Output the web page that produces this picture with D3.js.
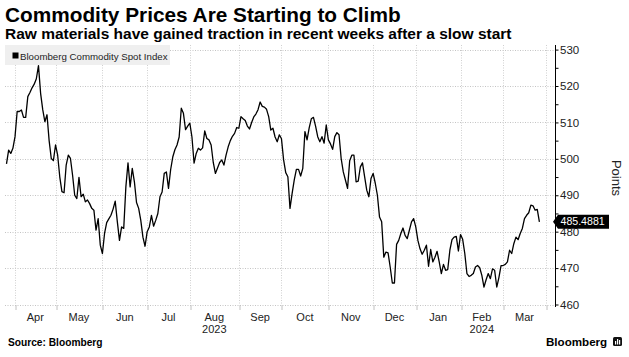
<!DOCTYPE html>
<html><head><meta charset="utf-8">
<script src="https://cdn.jsdelivr.net/npm/d3@7"></script>
<style>body{margin:0;background:#fff}svg{display:block}</style>
</head><body><svg id="c" width="629" height="357"></svg>
<script>
const title = "Commodity Prices Are Starting to Climb";
const subtitle = "Raw materials have gained traction in recent weeks after a slow start";
const seriesName = "Bloomberg Commodity Spot Index";
const sourceText = "Source: Bloomberg";
const brandText = "Bloomberg";
const yAxisTitle = "Points";
const startDate = "2023-03-28";
const endDate = "2024-03-26";
const axisEndDate = "2024-04-05";
const holidays = ["2023-04-07","2023-05-29","2023-06-19","2023-07-04","2023-09-04","2023-11-23","2023-12-25","2024-01-01","2024-01-15","2024-02-19","2024-03-29"];
const values = [
498.6,502.4,501.5,502.9,506.1,513.0,513.0,513.4,511.4,511.4,
517.1,518.2,519.5,520.5,522.0,525.6,518.0,513.5,510.2,512.1,
505.0,500.1,499.5,503.8,501.0,495.0,491.0,490.7,498.3,501.0,
500.1,495.5,490.0,489.1,494.9,489.6,490.3,488.2,488.7,487.7,
486.4,485.9,480.4,483.6,476.3,474.0,479.5,482.5,483.5,484.5,
486.2,488.4,482.7,477.6,481.3,480.9,492.3,498.9,492.3,497.4,
493.7,488.0,486.4,483.1,478.5,476.0,480.0,481.3,484.5,481.5,
483.1,485.0,489.6,490.9,496.0,496.4,491.9,497.0,500.5,502.5,
503.8,506.0,513.9,512.5,508.0,509.0,509.8,506.0,498.8,501.5,
502.9,502.4,503.0,507.7,505.6,505.2,503.8,499.0,496.0,497.5,
499.0,499.7,498.3,501.0,503.3,505.0,506.2,507.0,508.6,508.4,
511.6,511.0,510.5,509.0,508.2,510.0,511.5,512.3,513.5,515.6,
514.4,514.2,513.6,511.6,507.9,508.4,506.0,504.7,506.6,505.5,
499.7,496.2,495.1,486.4,490.5,494.2,497.1,497.1,495.3,497.4,
507.5,505.2,508.5,511.0,511.4,509.0,506.1,504.7,506.1,504.3,
509.3,505.2,504.1,502.6,506.1,507.2,506.6,500.1,496.4,494.2,
491.9,499.5,501.0,501.0,493.7,493.9,497.8,498.9,495.1,491.4,
489.6,494.6,496.0,493.3,490.0,484.0,482.7,473.0,474.4,474.2,
470.3,465.9,465.9,476.5,477.6,479.5,481.0,479.0,478.1,480.4,
482.7,483.6,481.3,477.6,475.3,473.8,474.9,476.3,470.5,475.1,
471.7,473.0,474.6,471.7,468.5,471.0,469.4,469.6,474.9,477.8,
478.5,478.7,474.7,479.2,477.9,474.0,468.5,467.7,468.0,468.5,
470.3,470.7,470.1,468.0,464.8,466.8,468.5,467.1,469.8,469.4,
464.8,467.4,470.7,470.7,471.0,471.7,474.9,474.0,476.7,478.5,
477.8,479.5,480.9,483.6,484.5,485.2,487.3,487.1,485.9,486.1,
482.7,485.4881];
const lastLabel = "485.4881";
const yMajorTicks = [460,470,480,490,500,510,520,530];
const yMinorTicks = [465,475,485,495,505,515,525];
const monthLabels = ["Apr","May","Jun","Jul","Aug","Sep","Oct","Nov","Dec","Jan","Feb","Mar"];
const yearLabels = {"2023-08":"2023","2024-02":"2024"};

// trading calendar
const fmt = d3.utcFormat("%Y-%m-%d");
const parse = d3.utcParse("%Y-%m-%d");
const hol = new Set(holidays);
const allDays = d3.utcDay.range(parse(startDate), d3.utcDay.offset(parse(axisEndDate),1))
  .filter(d => d.getUTCDay()!==0 && d.getUTCDay()!==6 && !hol.has(fmt(d)));
const nData = allDays.findIndex(d => fmt(d)===endDate) + 1;
const data = values.slice(0, nData).map((v,i)=>({date: allDays[i], v}));

// month starts
const monthFmt = d3.utcFormat("%Y-%m");
const monthStarts = [];
allDays.forEach((d,i)=>{ const k=monthFmt(d); if(!monthStarts.length || monthStarts[monthStarts.length-1].key!==k) monthStarts.push({key:k, idx:i}); });
const months = monthStarts.filter(m=>m.idx>0);

const FONT = "Liberation Sans, Arial, sans-serif";
const svg = d3.select("#c");
const x = d3.scaleLinear().domain([0, data.length-1]).range([6.5, 539.4]);
const y = d3.scaleLinear().domain([460, 530]).range([304.5, 49.6]);
const plotL = 5, plotR = 555, plotT = 45, plotB = 305;

// horizontal grid
svg.append("g").selectAll("line").data(yMajorTicks).join("line")
  .attr("x1", plotL).attr("x2", plotR)
  .attr("y1", d=>Math.round(y(d))+0.5).attr("y2", d=>Math.round(y(d))+0.5)
  .attr("stroke","#c4c4c4").attr("stroke-dasharray","1,1.5");

// vertical grid (month starts)
const gridMonths = months.filter(m=>x(m.idx) < plotR-2);
svg.append("g").selectAll("line").data(gridMonths).join("line")
  .attr("x1", d=>Math.round(x(d.idx))+0.5).attr("x2", d=>Math.round(x(d.idx))+0.5)
  .attr("y1", plotT).attr("y2", plotB)
  .attr("stroke","#d0d0d0").attr("stroke-dasharray","1,1.5");

// x axis ticks
const xAxis = d3.axisBottom(x).tickValues(gridMonths.map(m=>m.idx)).tickSize(5).tickFormat("");
const gx = svg.append("g").attr("transform",`translate(0.5,${plotB})`).call(xAxis);
gx.select(".domain").remove();
gx.selectAll(".tick text").remove();
gx.selectAll(".tick line").attr("stroke","#c0c0c0").attr("transform", d=>`translate(${Math.round(x(d))-x(d)},0)`);

// month labels centered in month intervals
const labelData = [];
for (let i=0;i<months.length-1;i++){
  if (labelData.length>=monthLabels.length) break;
  labelData.push({key:months[i].key, pos:(x(months[i].idx)+x(months[i+1].idx))/2, text:monthLabels[labelData.length]});
}
const lab = svg.append("g").attr("font-family",FONT).attr("font-size",11).attr("fill","#222").attr("text-anchor","middle");
lab.selectAll("text.m").data(labelData).join("text").attr("class","m")
  .attr("x",d=>d.pos).attr("y",321).text(d=>d.text);
lab.selectAll("text.yr").data(labelData.filter(d=>yearLabels[d.key])).join("text").attr("class","yr")
  .attr("x",d=>d.pos).attr("y",333).text(d=>yearLabels[d.key]);

// y axis
const yAxis = d3.axisRight(y).tickValues(yMajorTicks.concat(yMinorTicks)).tickSize(3).tickPadding(1.5)
  .tickFormat(d => yMajorTicks.includes(d) ? d : "");
const gy = svg.append("g").attr("transform",`translate(${plotR+0.5},0)`).call(yAxis);
gy.select(".domain").attr("d",`M0,${plotT}V${plotB+2}`).attr("stroke","#000");
gy.selectAll(".tick line").attr("stroke","#000");
gy.selectAll(".tick text").filter(d => !yMajorTicks.includes(d)).remove();
gy.selectAll(".tick text").attr("font-family",FONT).attr("font-size",11.5).attr("fill","#222");

// line
svg.append("path").datum(data)
  .attr("d", d3.line().x((d,i)=>x(i)).y(d=>y(d.v)))
  .attr("fill","none").attr("stroke","#000").attr("stroke-width",1.3).attr("stroke-linejoin","round");

// end label
const last = data[data.length-1];
const ly = y(last.v);
svg.append("path").attr("d",`M${plotR-2},${ly}L${plotR+3},${ly-7}H609V${ly+7}H${plotR+3}Z`).attr("fill","#000");
svg.append("text").attr("x",560.5).attr("y",ly+3.6).attr("font-family",FONT).attr("font-size",10.6).attr("fill","#fff").text(lastLabel);

// axis title
svg.append("text").attr("transform",`translate(612,178) rotate(90)`).attr("text-anchor","middle")
  .attr("font-family",FONT).attr("font-size",13).attr("fill","#222").text(yAxisTitle);

// legend
svg.append("rect").attr("x",5).attr("y",45).attr("width",165).attr("height",20).attr("fill","#efefef");
svg.append("rect").attr("x",12.5).attr("y",52.5).attr("width",6).attr("height",6).attr("fill","#000");
svg.append("text").attr("x",20).attr("y",59.5).attr("font-family",FONT).attr("font-size",9.7).attr("fill","#222").text(seriesName);

// titles
svg.append("text").attr("x",5).attr("y",22).attr("font-family",FONT).attr("font-weight","bold").attr("font-size",20.8).attr("fill","#000").text(title);
svg.append("text").attr("x",5).attr("y",39).attr("font-family",FONT).attr("font-weight","bold").attr("font-size",15.5).attr("fill","#000").text(subtitle);

// footer
svg.append("text").attr("x",8).attr("y",346).attr("font-family",FONT).attr("font-weight","bold").attr("font-size",10.2).attr("fill","#000").text(sourceText);
svg.append("text").attr("x",546).attr("y",345.5).attr("font-family",FONT).attr("font-weight","bold").attr("font-size",11.6).attr("fill","#000").text(brandText);
const logo = svg.append("g").attr("transform","translate(613,337)");
logo.append("rect").attr("width",9).attr("height",9).attr("rx",1.5).attr("fill","#111");
logo.append("rect").attr("x",2).attr("y",4).attr("width",1.2).attr("height",3.5).attr("fill","#fff");
logo.append("rect").attr("x",4).attr("y",2).attr("width",1.2).attr("height",5.5).attr("fill","#fff");
logo.append("rect").attr("x",6).attr("y",3).attr("width",1.2).attr("height",4.5).attr("fill","#fff");
</script></body></html>
